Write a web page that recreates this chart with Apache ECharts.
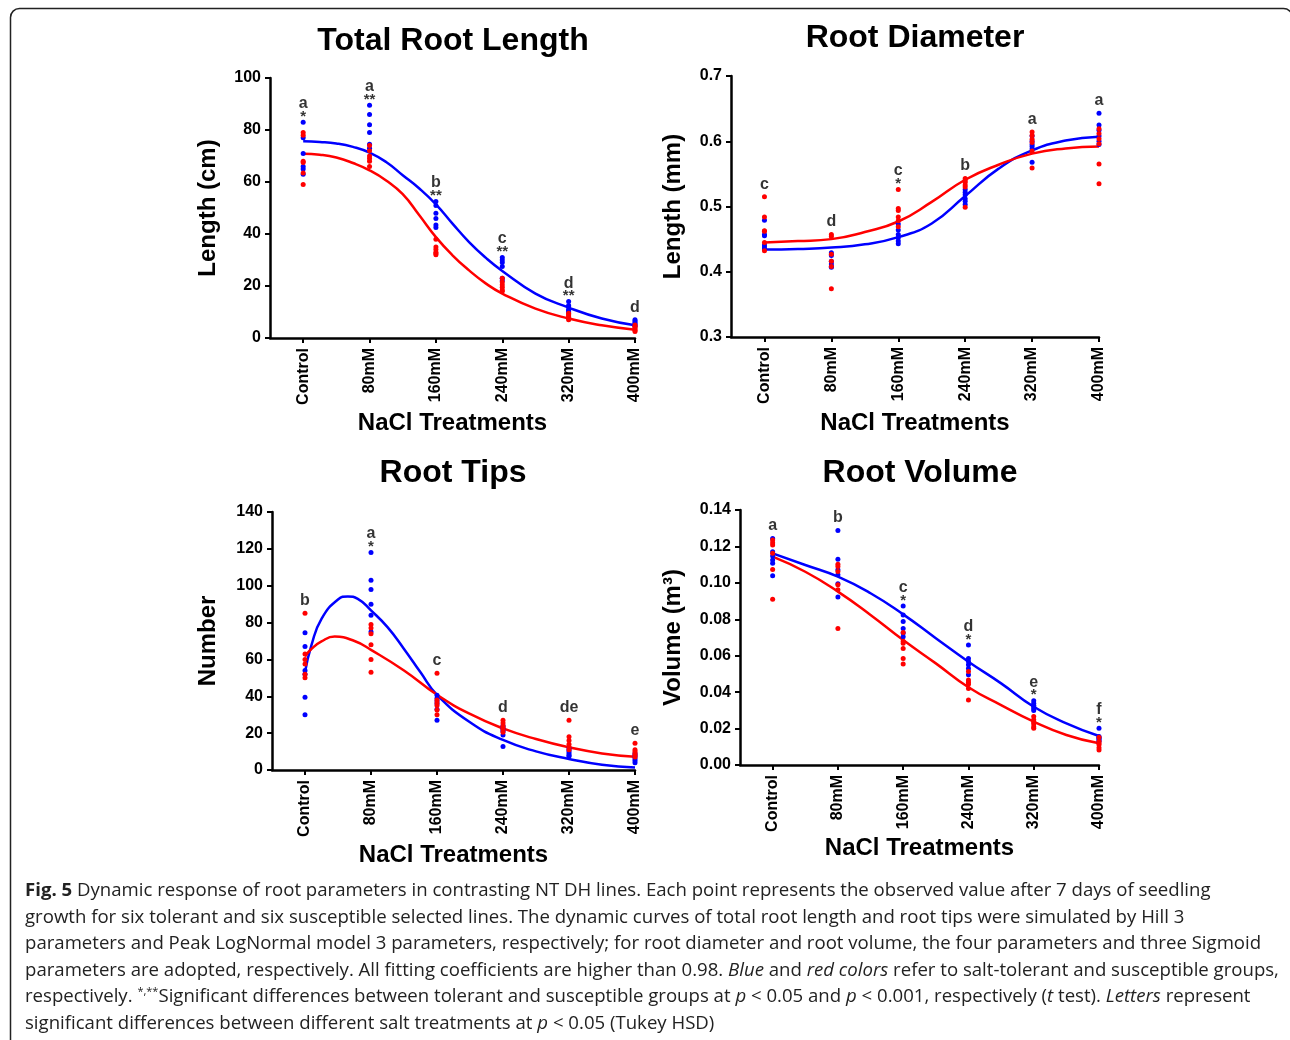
<!DOCTYPE html>
<html>
<head>
<meta charset="utf-8">
<script src="https://cdn.jsdelivr.net/npm/echarts@6/dist/echarts.min.js"></script>
<style>
  html, body { margin: 0; padding: 0; background: #fff; }
  #chart { position: absolute; left: 0; top: 0; width: 1290px; height: 1040px; }
  #caption {
    position: absolute; left: 25px; top: 876px;
    font-family: "Open Sans", sans-serif; font-size: 18.6px; line-height: 26.6px;
    color: #222; white-space: nowrap;
  }
  #caption sup { font-size: 11px; line-height: 0; }
</style>
</head>
<body>
<div id="chart"></div>
<div id="caption">
<b>Fig. 5</b> Dynamic response of root parameters in contrasting NT DH lines. Each point represents the observed value after 7 days of seedling<br>
growth for six tolerant and six susceptible selected lines. The dynamic curves of total root length and root tips were simulated by Hill 3<br>
parameters and Peak LogNormal model 3 parameters, respectively; for root diameter and root volume, the four parameters and three Sigmoid<br>
parameters are adopted, respectively. All fitting coefficients are higher than 0.98. <i>Blue</i> and <i>red colors</i> refer to salt-tolerant and susceptible groups,<br>
respectively. <sup>*,**</sup>Significant differences between tolerant and susceptible groups at <i>p</i> &lt; 0.05 and <i>p</i> &lt; 0.001, respectively (<i>t</i> test). <i>Letters</i> represent<br>
significant differences between different salt treatments at <i>p</i> &lt; 0.05 (Tukey HSD)
</div>
<script>
// treatments
var cats = ['Control', '80mM', '160mM', '240mM', '320mM', '400mM'];

// observed values, six lines per group and treatment
var lenTol = [[83, 77, 71, 66, 65, 63], [89.5, 86, 82, 79, 74.5, 73], [52.5, 51, 48, 46, 43.5, 42.5], [31, 30, 29, 27.5, 23, 22], [14, 12.5, 12, 11, 10.5, 10], [7, 6.5, 6, 5.5, 5, 4.5]];
var lenSus = [[79, 78, 68, 67.5, 63.5, 59], [74, 72, 70, 69, 68, 66], [38, 35, 34, 33, 32.5, 32], [23, 21.5, 20.5, 19.5, 18.5, 18], [9.5, 9, 8.5, 8, 7.5, 7], [5, 4.5, 4, 3.5, 3, 2.5]];
var diaTol = [[0.479, 0.457, 0.455, 0.441, 0.438, 0.435], [0.429, 0.425, 0.416, 0.412, 0.408, 0.407], [0.473, 0.464, 0.457, 0.452, 0.447, 0.443], [0.526, 0.522, 0.518, 0.512, 0.508, 0.503], [0.608, 0.600, 0.595, 0.592, 0.588, 0.568], [0.643, 0.625, 0.617, 0.608, 0.600, 0.595]];
var diaSus = [[0.515, 0.484, 0.463, 0.462, 0.445, 0.432], [0.457, 0.454, 0.427, 0.416, 0.408, 0.374], [0.526, 0.497, 0.494, 0.484, 0.478, 0.469], [0.543, 0.540, 0.537, 0.533, 0.530, 0.499], [0.614, 0.609, 0.603, 0.598, 0.585, 0.559], [0.619, 0.612, 0.604, 0.596, 0.565, 0.535]];
var tipTol = [[74.5, 67, 54, 52, 39.5, 30], [118, 103, 98, 90, 84, 75], [40.5, 39, 37.5, 36, 33, 27], [24, 23, 22, 21, 19, 12.7], [12, 11, 10, 9, 8, 7.5], [9, 8, 7, 6, 5, 4]];
var tipSus = [[85, 63, 60, 57.5, 52, 50], [79, 77, 74, 68, 60, 53], [52.5, 38, 36.5, 35, 32.5, 30], [27, 25.5, 24, 23, 22, 20.5], [27, 18, 16, 14, 12.5, 11], [14.5, 11, 10, 9, 8, 7]];
var volTol = [[0.1244, 0.1171, 0.1147, 0.1125, 0.1107, 0.1039], [0.1287, 0.1129, 0.1072, 0.1045, 0.0995, 0.0922], [0.0873, 0.0823, 0.0788, 0.075, 0.0725, 0.0704], [0.0659, 0.0585, 0.0568, 0.055, 0.053, 0.0495], [0.0353, 0.0339, 0.0328, 0.0321, 0.031, 0.0299], [0.0202, 0.0157, 0.015, 0.0145, 0.0138, 0.013]];
var volSus = [[0.1235, 0.122, 0.1208, 0.1162, 0.1074, 0.091], [0.1102, 0.109, 0.1063, 0.099, 0.0962, 0.075], [0.0728, 0.068, 0.0668, 0.064, 0.0585, 0.0554], [0.0513, 0.0467, 0.0455, 0.0443, 0.042, 0.0357], [0.0266, 0.0248, 0.0235, 0.0225, 0.021, 0.0202], [0.0153, 0.013, 0.012, 0.0111, 0.0095, 0.0083]];

// fitted curves
var lenFitX = [0, 0.25, 0.5, 0.75, 1, 1.25, 1.5, 1.75, 2, 2.25, 2.5, 2.75, 3, 3.5, 4, 4.5, 5];
var lenTolFit = [75.7, 75.4, 74.8, 73.5, 71.3, 67.7, 62.6, 57.5, 51.4, 44, 36.9, 30.9, 25.8, 17.1, 11.7, 7.5, 4.9];
var lenSusFit = [70.9, 70.5, 69.4, 67.3, 64.5, 60.6, 55.3, 47.2, 38.8, 31.8, 26, 21, 17.1, 11.3, 7.5, 4.9, 3.2];
var fitX = [0, 0.5, 1, 1.5, 2, 2.5, 3, 3.5, 4, 4.5, 5];
var diaTolFit = [0.434, 0.435, 0.437, 0.442, 0.453, 0.474, 0.516, 0.558, 0.586, 0.601, 0.607];
var diaSusFit = [0.445, 0.447, 0.450, 0.461, 0.477, 0.507, 0.541, 0.564, 0.581, 0.589, 0.592];
var tipTolX = [0, 0.1, 0.25, 0.5, 0.65, 0.8, 1, 1.25, 1.5, 1.75, 2, 2.5, 3, 3.5, 4, 4.5, 5];
var tipTolFit = [53, 68, 82, 92.5, 94.2, 92.9, 86.6, 77.5, 65.7, 53, 40.8, 25.9, 16.3, 10.1, 6, 2.9, 1.4];
var tipSusX = [0, 0.1, 0.25, 0.45, 0.75, 1, 1.5, 2, 2.5, 3, 3.5, 4, 4.5, 5];
var tipSusFit = [61.6, 65.8, 69.8, 72.4, 70, 65.2, 54, 40.8, 30.4, 22.6, 16.8, 12.3, 9, 7.2];
var volTolFit = [0.1162, 0.1098, 0.1034, 0.0943, 0.0827, 0.0696, 0.0567, 0.0448, 0.032, 0.0229, 0.0159];
var volSusFit = [0.1144, 0.1061, 0.0952, 0.0824, 0.0686, 0.0558, 0.0427, 0.0329, 0.0238, 0.0165, 0.0119];

// Tukey letters and t-test stars
var lenLetters = ['a', 'a', 'b', 'c', 'd', 'd'];
var lenStars = ['*', '**', '**', '**', '**', ''];
var diaLetters = ['c', 'd', 'c', 'b', 'a', 'a'];
var diaStars = ['', '', '*', '', '', ''];
var tipLetters = ['b', 'a', 'c', 'd', 'de', 'e'];
var tipStars = ['', '*', '', '', '', ''];
var volLetters = ['a', 'b', 'c', 'd', 'e', 'f'];
var volStars = ['', '', '*', '*', '*', '*'];

var FONT = '"Liberation Sans", Arial, Helvetica, sans-serif';
var BLUE = '#0000ff', RED = '#ff0000';

function points(groups) {
    var out = [];
    groups.forEach(function (vals, i) {
        vals.forEach(function (v) { out.push([i, v]); });
    });
    return out;
}
function pairs(xs, ys) {
    return xs.map(function (x, i) { return [x, ys[i]]; });
}
function letterData(tol, sus, letters, stars) {
    return letters.map(function (l, i) {
        var top = Math.max.apply(null, tol[i].concat(sus[i]));
        var txt = stars[i] ? '{l|' + l + '}\n{s|' + stars[i] + '}' : '{l|' + l + '}';
        return { value: [i, top], label: { formatter: txt, distance: stars[i] ? 0 : 4 } };
    });
}

var grids = [
    { left: 270, top: 78, width: 365, height: 260 },
    { left: 731, top: 76, width: 368, height: 261 },
    { left: 272, top: 512, width: 363, height: 258 },
    { left: 740, top: 510, width: 359, height: 255 }
];

function xAxis(idx, gap) {
    return {
        type: 'value', gridIndex: idx, min: -0.5, max: 5,
        name: 'NaCl Treatments', nameLocation: 'middle', nameGap: gap,
        nameTextStyle: { fontFamily: FONT, fontSize: 24, fontWeight: 'bold', color: '#000' },
        axisLine: { onZero: false, lineStyle: { color: '#000', width: 2.5 } },
        axisTick: { customValues: [0, 1, 2, 3, 4, 5], length: 5, lineStyle: { color: '#000', width: 2 } },
        axisLabel: {
            customValues: [0, 1, 2, 3, 4, 5], rotate: 90, margin: 10,
            fontFamily: FONT, fontSize: 16, fontWeight: 'bold', color: '#000',
            formatter: function (v) { return cats[Math.round(v)]; }
        },
        splitLine: { show: false }
    };
}
function yAxis(idx, min, max, step, name, gap, digits) {
    return {
        type: 'value', gridIndex: idx, min: min, max: max, interval: step,
        name: name, nameLocation: 'middle', nameGap: gap,
        nameTextStyle: { fontFamily: FONT, fontSize: 24, fontWeight: 'bold', color: '#000' },
        axisLine: { show: true, onZero: false, lineStyle: { color: '#000', width: 2.5 } },
        axisTick: { show: true, length: 5, lineStyle: { color: '#000', width: 2 } },
        axisLabel: {
            margin: 9, fontFamily: FONT, fontSize: 16, fontWeight: 'bold', color: '#000',
            formatter: function (v) { return digits ? v.toFixed(digits) : String(Math.round(v)); }
        },
        splitLine: { show: false }
    };
}

function panelSeries(idx, tol, sus, tolFit, susFit, letters, stars) {
    return [
        { type: 'line', xAxisIndex: idx, yAxisIndex: idx, data: tolFit, smooth: 0.5, symbol: 'none', lineStyle: { color: BLUE, width: 2.5 }, z: 2 },
        { type: 'line', xAxisIndex: idx, yAxisIndex: idx, data: susFit, smooth: 0.5, symbol: 'none', lineStyle: { color: RED, width: 2.5 }, z: 2 },
        { type: 'scatter', xAxisIndex: idx, yAxisIndex: idx, data: points(tol), symbolSize: 5, itemStyle: { color: BLUE, opacity: 1 }, z: 3 },
        { type: 'scatter', xAxisIndex: idx, yAxisIndex: idx, data: points(sus), symbolSize: 5, itemStyle: { color: RED, opacity: 1 }, z: 4 },
        {
            type: 'scatter', xAxisIndex: idx, yAxisIndex: idx, data: letterData(tol, sus, letters, stars),
            symbolSize: 1, itemStyle: { color: 'rgba(0,0,0,0)' }, z: 5,
            label: {
                show: true, position: 'top', color: '#000',
                rich: {
                    l: { fontFamily: FONT, fontSize: 16, fontWeight: 'bold', lineHeight: 16, color: '#000', align: 'center' },
                    s: { fontFamily: FONT, fontSize: 15, fontWeight: 'bold', lineHeight: 10, color: '#000', align: 'center' }
                }
            }
        }
    ];
}

var chart = echarts.init(document.getElementById('chart'), null, { renderer: 'canvas' });

var option = {
    animation: false,
    backgroundColor: '#fff',
    graphic: [
        { type: 'rect', shape: { x: 10.5, y: 8.5, width: 1282, height: 1100, r: 9 }, style: { fill: 'none', stroke: '#222', lineWidth: 1.5 }, silent: true },
        { type: 'text', x: 453, y: 41, style: { text: 'Total Root Length', font: 'bold 32px ' + FONT, fill: '#000', textAlign: 'center', textVerticalAlign: 'middle' } },
        { type: 'text', x: 915, y: 38, style: { text: 'Root Diameter', font: 'bold 32px ' + FONT, fill: '#000', textAlign: 'center', textVerticalAlign: 'middle' } },
        { type: 'text', x: 453, y: 473, style: { text: 'Root Tips', font: 'bold 32px ' + FONT, fill: '#000', textAlign: 'center', textVerticalAlign: 'middle' } },
        { type: 'text', x: 920, y: 473, style: { text: 'Root Volume', font: 'bold 32px ' + FONT, fill: '#000', textAlign: 'center', textVerticalAlign: 'middle' } }
    ],
    grid: grids,
    xAxis: [xAxis(0, 73), xAxis(1, 74), xAxis(2, 73), xAxis(3, 71)],
    yAxis: [
        yAxis(0, 0, 100, 20, 'Length (cm)', 50, 0),
        yAxis(1, 0.3, 0.7, 0.1, 'Length (mm)', 46, 1),
        yAxis(2, 0, 140, 20, 'Number', 52, 0),
        yAxis(3, 0, 0.14, 0.02, 'Volume (m³)', 55, 2)
    ],
    series: [].concat(
        panelSeries(0, lenTol, lenSus, pairs(lenFitX, lenTolFit), pairs(lenFitX, lenSusFit), lenLetters, lenStars),
        panelSeries(1, diaTol, diaSus, pairs(fitX, diaTolFit), pairs(fitX, diaSusFit), diaLetters, diaStars),
        panelSeries(2, tipTol, tipSus, pairs(tipTolX, tipTolFit), pairs(tipSusX, tipSusFit), tipLetters, tipStars),
        panelSeries(3, volTol, volSus, pairs(fitX, volTolFit), pairs(fitX, volSusFit), volLetters, volStars)
    )
};

chart.setOption(option);
window.onresize = function () { chart.resize(); };
</script>
</body>
</html>
